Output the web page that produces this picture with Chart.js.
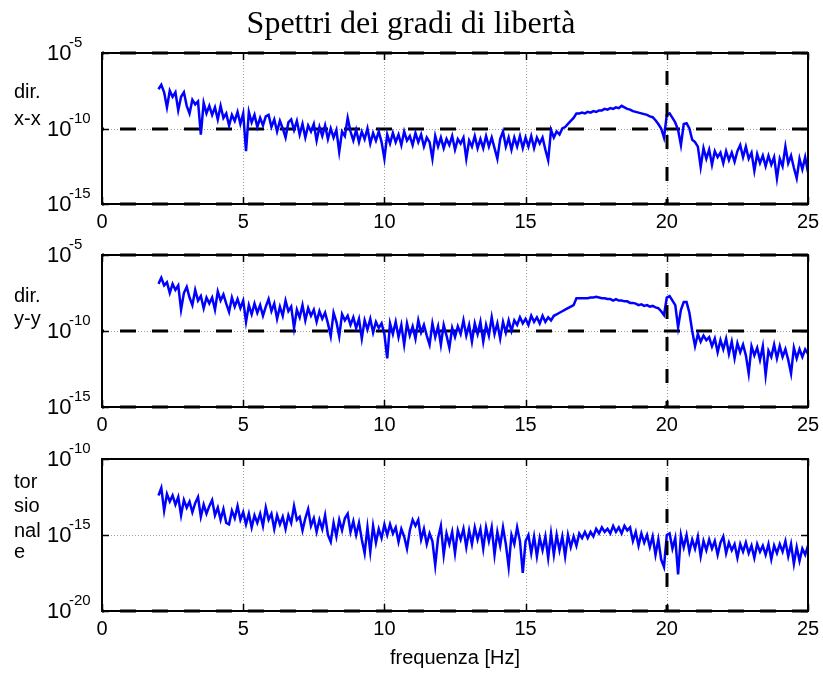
<!DOCTYPE html>
<html>
<head>
<meta charset="utf-8">
<script src="https://cdn.jsdelivr.net/npm/chart.js@4"></script>
<style>
    body { margin: 0; background: #fff; }
    #wrap { position: relative; width: 823px; height: 673px; background: #fff; }
    #wrap canvas { position: absolute; left: 0; }
</style>
</head>
<body>
<div id="wrap">
    <canvas id="c1" width="823" height="235" style="top:0px"></canvas>
    <canvas id="c2" width="823" height="200" style="top:235px"></canvas>
    <canvas id="c3" width="823" height="238" style="top:435px"></canvas>
</div>
<script>
// Frequency grid of the spectra (Hz)
const FREQ_START = 2.0;
const FREQ_STEP = 0.1;

// log10 of the spectra, one value per 0.1 Hz from 2.0 to 25.0 Hz
const xxLog = [
    -7.4, -7.1, -7.6, -8.6, -7.5, -7.9, -7.6, -8.8, -7.9, -7.6,
    -8.5, -9.0, -8.1, -8.4, -8.2, -10.4, -8.3, -9.0, -8.5, -9.1,
    -8.6, -9.4, -8.5, -9.3, -9.0, -9.8, -9.1, -9.5, -8.9, -9.7,
    -9.0, -11.5, -8.9, -9.6, -9.1, -9.9, -9.3, -9.8, -9.2, -9.1,
    -9.9, -9.4, -10.2, -9.5, -10.0, -10.6, -9.6, -9.4, -10.1, -9.5,
    -10.4, -9.7, -10.6, -9.8, -10.2, -9.7, -10.8, -9.9, -10.5, -9.8,
    -10.7, -10.0, -10.6, -10.1, -11.55, -10.2, -10.5, -9.3, -10.2, -10.8,
    -10.1, -10.9, -10.2, -10.7, -10.0, -11.0, -10.3, -10.8, -10.2, -10.9,
    -12.0, -10.4, -11.0, -10.3, -10.9, -10.4, -11.1, -10.2, -10.8, -10.5,
    -11.1, -10.3, -10.9, -10.4, -11.2, -10.6, -10.9, -12.0, -10.5, -11.2,
    -10.6, -11.3, -10.7, -11.1, -10.5, -11.4, -10.7, -11.0, -10.6, -12.0,
    -10.8, -11.2, -10.5, -11.3, -10.7, -11.3, -10.5, -11.2, -10.6, -11.3,
    -12.0, -10.7, -10.2, -11.2, -10.6, -11.4, -10.6, -11.2, -10.5, -11.3,
    -10.6, -11.2, -10.5, -11.3, -10.6, -11.0, -10.6, -11.4, -12.1, -10.1,
    -10.6, -10.2, -10.4, -10.0, -9.9, -9.7, -9.5, -9.3, -9.0, -9.0,
    -8.95, -9.0, -8.9, -8.95, -8.85, -8.9, -8.8, -8.8, -8.7, -8.75,
    -8.65, -8.7, -8.6, -8.65, -8.5, -8.6, -8.7, -8.75, -8.85, -8.9,
    -8.95, -9.0, -9.05, -9.1, -9.2, -9.25, -9.45, -9.7, -10.0, -10.6,
    -9.1, -9.0, -9.3, -9.6, -10.1, -11.1, -9.7, -9.65, -10.0, -10.75,
    -10.9, -11.2, -12.55, -11.3, -12.0, -11.4, -12.4, -11.5, -11.9, -11.6,
    -12.3, -11.5, -12.1, -11.6, -12.2, -11.5, -11.1, -11.9, -11.2, -12.0,
    -11.6, -12.8, -11.7, -12.3, -11.8, -12.5, -11.8, -12.4, -11.9, -13.3,
    -12.0, -12.5, -11.2, -12.3, -11.8, -12.6, -13.3, -12.0, -12.7, -11.9,
    -12.9
];

const yyLog = [
    -6.9, -6.5, -7.0, -6.8, -7.5, -6.9, -7.3, -7.0, -8.6, -7.5,
    -7.1, -7.8, -8.3, -7.3, -8.0, -7.7, -8.5, -7.8, -8.2, -7.8,
    -8.6, -7.4, -8.0, -7.6, -8.2, -8.75, -7.8, -8.4, -7.9, -8.5,
    -8.0, -9.4, -8.3, -8.9, -8.2, -8.8, -8.3, -9.0, -8.4, -7.9,
    -8.7, -8.2, -9.2, -8.4, -9.0, -8.0, -8.7, -8.4, -9.8, -8.6,
    -9.1, -8.3, -9.3, -8.5, -9.0, -8.6, -9.4, -8.7, -9.2, -8.8,
    -9.5, -10.35, -8.8, -9.4, -10.35, -8.9, -9.3, -9.0, -9.6, -9.1,
    -9.8, -9.2, -10.5, -9.3, -9.9, -9.2, -10.1, -9.4, -9.8, -9.5,
    -10.2, -11.8, -9.5, -10.2, -9.4, -10.4, -9.6, -10.9, -9.5, -10.3,
    -9.7, -10.5, -9.3, -10.1, -9.6, -10.3, -10.9, -9.5, -10.4, -9.7,
    -10.9, -9.6, -10.3, -11.1, -9.8, -10.4, -9.7, -10.2, -9.3, -10.3,
    -9.6, -10.7, -9.5, -10.2, -9.4, -10.7, -9.6, -10.3, -9.1, -10.2,
    -9.5, -10.5, -9.4, -10.1, -9.3, -10.0, -9.3, -9.6, -9.1, -9.5,
    -9.2, -9.6, -9.0, -9.4, -9.1, -9.5, -9.0, -9.4, -9.1, -9.3,
    -9.0, -8.9, -8.8, -8.7, -8.6, -8.5, -8.4, -8.3, -7.85, -7.85,
    -7.85, -7.85, -7.85, -7.8, -7.8, -7.75, -7.8, -7.85, -7.85, -7.9,
    -7.9, -8.0, -7.9, -8.0, -8.0, -8.05, -8.05, -8.15, -8.15, -8.2,
    -8.3, -8.25, -8.35, -8.3, -8.4, -8.35, -8.45, -8.5, -8.7, -8.95,
    -7.8, -7.7, -8.0, -8.3, -9.75, -8.6, -8.1, -8.1, -8.8, -10.0,
    -11.0, -10.2, -10.7, -10.3, -10.6, -10.4, -11.0, -10.5, -11.4, -10.6,
    -11.2, -10.5, -11.5, -10.7, -11.8, -10.8, -11.4, -10.9, -11.6, -12.8,
    -11.0, -11.6, -11.1, -11.9, -11.0, -12.9, -11.3, -11.7, -10.9, -11.8,
    -11.0, -11.7, -11.2, -11.9, -12.8, -11.1, -11.8, -11.2, -11.7, -11.2,
    -11.5
];

const torLog = [
    -12.4, -11.9, -13.4, -12.3, -12.8, -12.4, -13.0, -12.5, -13.7, -12.7,
    -13.2, -12.8, -13.5, -12.9, -12.5, -13.8, -13.0, -13.6, -13.1, -12.7,
    -13.7, -13.2, -14.0, -13.3, -14.2, -14.3, -13.4, -13.9, -13.1, -14.0,
    -13.5, -14.3, -13.6, -14.5, -13.7, -14.2, -13.6, -14.4, -13.2, -14.0,
    -13.6, -14.6, -13.7, -14.3, -13.8, -14.6, -13.7, -14.2, -13.1, -14.0,
    -13.8, -14.7, -13.9, -13.3, -14.4, -13.9, -14.8, -14.0, -14.6, -13.7,
    -15.0, -15.45, -14.2, -15.1, -14.0, -14.7, -13.9, -13.6, -14.8, -14.1,
    -15.0, -14.2, -15.3, -16.2, -14.5, -16.1, -14.4, -15.5, -14.6, -15.2,
    -14.3, -15.0, -14.3, -14.9, -14.5, -15.45, -14.6, -15.1, -15.9, -14.7,
    -14.0, -14.4, -14.0, -15.3, -14.6, -15.6, -14.9, -15.4, -17.0, -15.2,
    -14.4, -16.3, -14.9, -15.6, -14.8, -16.2, -14.7, -15.3, -14.6, -15.8,
    -14.7, -15.6, -14.5, -15.3, -14.6, -15.9, -14.5, -15.4, -14.5, -16.3,
    -14.8, -15.7, -14.5, -15.6, -17.1, -15.0, -15.6, -14.5, -15.4, -17.5,
    -15.4, -15.0, -16.2, -15.1, -16.4, -15.2, -16.0, -15.1, -16.5, -14.9,
    -16.3, -15.0, -16.0, -15.1, -16.4, -15.0, -15.8, -15.1, -15.7, -14.9,
    -15.2, -14.8, -15.2, -14.8, -15.1, -14.6, -14.9, -14.5, -14.8, -14.6,
    -14.9, -14.4, -14.8, -14.5, -14.9, -14.4, -14.7, -14.5, -15.4, -14.8,
    -15.7, -14.9, -15.5, -15.0, -15.8, -15.1, -16.3, -15.3, -16.6, -17.1,
    -15.0, -14.9, -15.9, -15.2, -17.6, -15.0, -15.8, -15.0, -16.1, -15.3,
    -15.9, -15.1, -16.4, -15.4, -16.0, -15.3, -15.9, -15.4, -16.3, -15.5,
    -15.1, -16.2, -15.5, -16.0, -15.6, -16.5, -15.6, -16.1, -15.5, -16.2,
    -15.7, -16.5, -15.6, -16.1, -15.7, -16.3, -15.6, -16.6, -15.7, -16.2,
    -15.6, -16.1, -15.4, -16.4, -15.6, -16.9, -15.8, -16.7, -15.9, -16.3,
    -15.7
];

// Axis ticks and labels
const xTicks = [0, 5, 10, 15, 20, 25];
const yTicksTop = [-5, -10, -15];
const yTicksBottom = [-10, -15, -20];
const sideLabelsXX = ['dir.', 'x-x'];
const sideLabelsYY = ['dir.', 'y-y'];
const sideLabelsTor = ['tor', 'sio', 'nal', 'e'];
const titleText = 'Spettri dei gradi di libertà';
const xTitleText = 'frequenza [Hz]';

function toPoints(logValues) {
    return logValues.map((v, i) => ({ x: FREQ_START + i * FREQ_STEP, y: Math.pow(10, v) }));
}

function strokeLine(ctx, x1, y1, x2, y2) {
    ctx.beginPath();
    ctx.moveTo(x1, y1);
    ctx.lineTo(x2, y2);
    ctx.stroke();
}

// Draws MATLAB-like grid, dashed lines, frame and all labels
const panelDeco = {
    id: 'panelDeco',
    beforeDatasetsDraw(chart, args, o) {
        const ctx = chart.ctx;
        const a = chart.chartArea;
        const xs = chart.scales.x, ys = chart.scales.y;
        ctx.save();
        // dotted grey grid
        ctx.strokeStyle = '#a0a0a0';
        ctx.lineWidth = 1;
        ctx.setLineDash([1, 2]);
        xTicks.slice(1, -1).forEach(v => {
            const px = Math.round(xs.getPixelForValue(v)) + 0.5;
            strokeLine(ctx, px, a.top, px, a.bottom);
        });
        const pyMid = Math.round(ys.getPixelForValue(Math.pow(10, o.yTicks[1]))) + 0.5;
        strokeLine(ctx, a.left, pyMid, a.right, pyMid);
        // thick black dashed lines at some decades
        ctx.strokeStyle = '#000';
        ctx.lineWidth = 3;
        ctx.setLineDash([16, 16]);
        ctx.lineDashOffset = 14;
        o.dashY.forEach(e => {
            const py = Math.round(ys.getPixelForValue(Math.pow(10, e)));
            strokeLine(ctx, a.left, py, a.right, py);
        });
        ctx.restore();
    },
    afterDatasetsDraw(chart, args, o) {
        const ctx = chart.ctx;
        const a = chart.chartArea;
        const xs = chart.scales.x, ys = chart.scales.y;
        ctx.save();
        // vertical dashed line at 20 Hz
        ctx.strokeStyle = '#000';
        ctx.lineWidth = 3;
        ctx.setLineDash([14, 18]);
        ctx.lineDashOffset = 14;
        const p20 = Math.round(xs.getPixelForValue(20));
        strokeLine(ctx, p20, a.top, p20, a.bottom);
        ctx.setLineDash([]);

        // frame
        ctx.lineWidth = 2;
        ctx.strokeRect(Math.round(a.left), Math.round(a.top), Math.round(a.right - a.left), Math.round(a.bottom - a.top));

        // inward ticks
        ctx.lineWidth = 1.5;
        xTicks.forEach(v => {
            const px = Math.round(xs.getPixelForValue(v)) + 0.5;
            strokeLine(ctx, px, a.bottom, px, a.bottom - 7);
            strokeLine(ctx, px, a.top, px, a.top + 7);
        });
        o.yTicks.forEach(e => {
            const py = Math.round(ys.getPixelForValue(Math.pow(10, e))) + 0.5;
            strokeLine(ctx, a.left, py, a.left + 7, py);
            strokeLine(ctx, a.right, py, a.right - 7, py);
        });

        // tick labels
        ctx.fillStyle = '#000';
        ctx.textBaseline = 'middle';
        ctx.textAlign = 'center';
        ctx.font = '20px "Liberation Sans", Arial, sans-serif';
        xTicks.forEach(v => {
            ctx.fillText(String(v), xs.getPixelForValue(v), a.bottom + 18);
        });
        ctx.textAlign = 'left';
        o.yTicks.forEach(e => {
            const py = ys.getPixelForValue(Math.pow(10, e));
            ctx.font = '22px "Liberation Sans", Arial, sans-serif';
            ctx.fillText('10', 47, py + 1);
            ctx.font = '15px "Liberation Sans", Arial, sans-serif';
            ctx.fillText(String(e), 69, py - 10);
        });

        // side labels
        ctx.textBaseline = 'alphabetic';
        ctx.font = '20px "Liberation Sans", Arial, sans-serif';
        o.side.forEach((t, i) => {
            ctx.fillText(t, 14, a.top + o.sideY[i]);
        });

        if (o.title) {
            ctx.textAlign = 'center';
            ctx.font = '32px "Liberation Serif", "Times New Roman", serif';
            ctx.fillText(o.title, 411, 33);
        }
        if (o.xTitle) {
            ctx.textAlign = 'center';
            ctx.font = '20px "Liberation Sans", Arial, sans-serif';
            ctx.fillText(o.xTitle, 455, a.bottom + 53);
        }
        ctx.restore();
    }
};

function makePanel(canvasId, logValues, yTicks, padding, deco) {
    const ctx = document.getElementById(canvasId).getContext('2d');
    deco.yTicks = yTicks;
    return new Chart(ctx, {
        type: 'line',
        data: {
            datasets: [{
                data: toPoints(logValues),
                borderColor: '#0000ff',
                borderWidth: 2.5,
                pointRadius: 0,
                tension: 0,
                fill: false
            }]
        },
        options: {
            responsive: false,
            animation: false,
            layout: { padding: padding },
            plugins: {
                legend: { display: false },
                tooltip: { enabled: false },
                panelDeco: deco
            },
            scales: {
                x: { type: 'linear', display: false, min: 0, max: 25 },
                y: {
                    type: 'logarithmic',
                    display: false,
                    min: Math.pow(10, yTicks[2]),
                    max: Math.pow(10, yTicks[0])
                }
            }
        },
        plugins: [panelDeco]
    });
}

makePanel('c1', xxLog, yTicksTop, { left: 102, right: 15, top: 53, bottom: 31 }, {
    dashY: [-5, -10, -15],
    side: sideLabelsXX,
    sideY: [45, 72],
    title: titleText
});

makePanel('c2', yyLog, yTicksTop, { left: 102, right: 15, top: 20, bottom: 28 }, {
    dashY: [-5, -10, -15],
    side: sideLabelsYY,
    sideY: [47, 70]
});

makePanel('c3', torLog, yTicksBottom, { left: 102, right: 15, top: 24, bottom: 62 }, {
    dashY: [-20],
    side: sideLabelsTor,
    sideY: [29, 53, 78, 99],
    xTitle: xTitleText
});
</script>
</body>
</html>
